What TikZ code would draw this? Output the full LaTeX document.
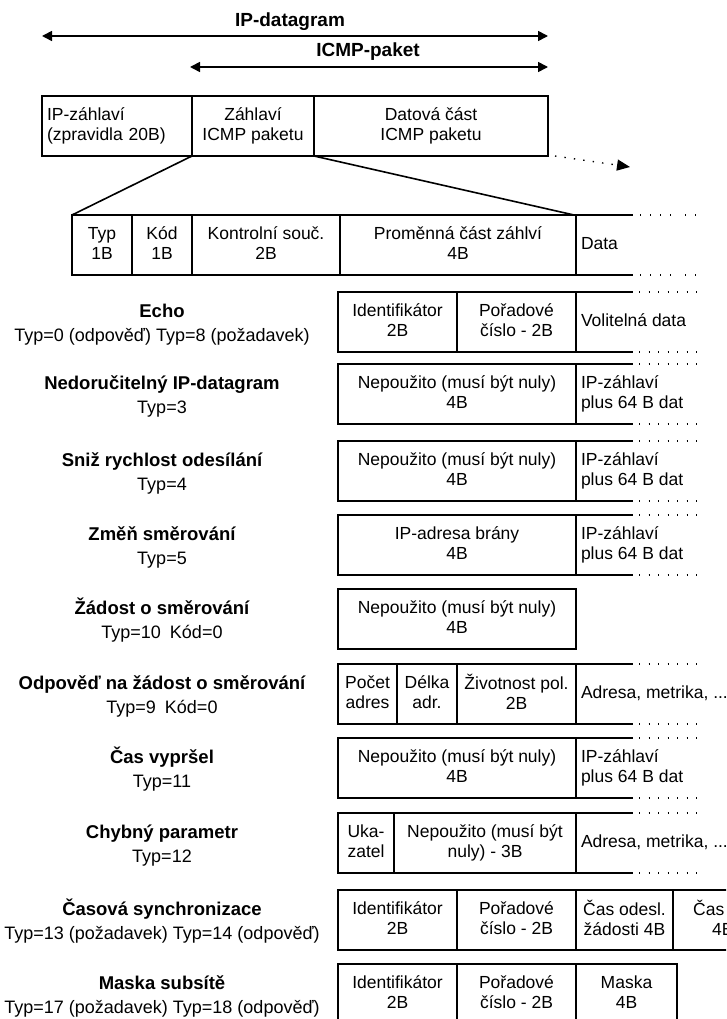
\documentclass[tikz,border=0pt]{standalone}
\usepackage{fontspec}
\setmainfont{Liberation Sans}
\usetikzlibrary{arrows.meta}
\newcommand\twol[2]{\rule{0pt}{12.5pt}#1\\#2\rule[-3.5pt]{0pt}{3.5pt}}
\newcommand\onel[1]{\rule[-3.5pt]{0pt}{16pt}#1}
\newcommand\datalines[1]{%
  \draw[dline] (#1.north east) -- ++(57,0);
  \draw[dots] ([xshift=63pt]#1.north east) -- ++(62,0);
  \draw[dline] (#1.south east) -- ++(57,0);
  \draw[dots] ([xshift=63pt]#1.south east) -- ++(62,0);}
\begin{document}
\begin{tikzpicture}[x=1pt,y=-1pt,
  cell/.style={draw, line width=1.6pt, inner sep=0pt, outer sep=0pt, minimum height=60pt,
    align=center, font=\fontsize{17.5}{20}\selectfont},
  dtxt/.style={anchor=west, inner xsep=5pt, inner ysep=0pt, outer sep=0pt, align=left,
    font=\fontsize{17.5}{20}\selectfont},
  ttl/.style={anchor=base, inner sep=0pt, font=\fontsize{18.5}{22}\selectfont\bfseries},
  sub/.style={anchor=base, inner sep=0pt, font=\fontsize{18}{20}\selectfont},
  big/.style={anchor=base, inner sep=0pt, font=\fontsize{19}{22}\selectfont\bfseries},
  frag/.style={anchor=base west, inner sep=0pt, font=\fontsize{17.5}{20}\selectfont},
  dline/.style={line width=1.6pt},
  dots/.style={line width=1.4pt, dash pattern=on 1.4pt off 8.1pt},
  hdots/.style={line width=1.4pt, dash pattern=on 1.4pt off 8.6pt on 1.4pt off 8.6pt on 1.4pt off 8.6pt on 1.4pt off 13.6pt on 1.4pt off 8.6pt},
  tip/.style={{Triangle[length=10pt,width=10pt]}-{Triangle[length=10pt,width=10pt]}},
]
\useasboundingbox (0,0) rectangle (726,1019);
\clip (0,0) rectangle (726,1019);
\fill[white] (0,0) rectangle (726,1019);

% top arrows
\coordinate (a1l) at (42,36);
\coordinate (a1r) at (548,36);
\coordinate (a2l) at (190,67);
\coordinate (a2r) at (548,67);
\node[big] (tipd) at (290,27) {IP-datagram};
\node[big] (ticmp) at (368,57) {ICMP-paket};
\draw[tip, line width=1.6pt] (a1l) -- (a1r);
\draw[tip, line width=1.6pt] (a2l) -- (a2r);

% top box
\node[cell, minimum width=150pt, text width=140pt, align=left, inner xsep=5pt] (ipz) at (117,126) {\twol{IP-záhlaví}{(zpravidla 20B)}};
\node[cell, minimum width=122pt] (zic) at (253,126) {\twol{Záhlaví}{ICMP paketu}};
\node[cell, minimum width=234pt] (dat) at (431,126) {\twol{Datová část}{ICMP paketu}};
\coordinate (da) at (630,167);
\draw[dots, -{Triangle[length=13pt,width=11pt]}] ([xshift=7pt]dat.south east) -- (da);

% header row
\node[cell, minimum width=60pt] (typ) at (102,245) {\twol{Typ}{1B}};
\node[cell, minimum width=60pt] (kod) at (162,245) {\twol{Kód}{1B}};
\node[cell, minimum width=148pt] (kon) at (266,245) {\twol{Kontrolní souč.}{2B}};
\node[cell, minimum width=236pt] (prom) at (458,245) {\twol{Proměnná část záhlví}{4B}};
\node[dtxt] (hdata) at (prom.east) {\onel{Data}};
\draw[dline] (prom.north east) -- ++(57,0);
\draw[hdots] ([xshift=64pt]prom.north east) -- ++(58,0);
\draw[dline] (prom.south east) -- ++(57,0);
\draw[hdots] ([xshift=64pt]prom.south east) -- ++(58,0);
\draw[dline] (zic.south west) -- (typ.north west);
\draw[dline] (zic.south east) -- ([xshift=-2pt]prom.north east);

% left titles
\node[ttl] (n1) at (162,317) {Echo};
\node[sub] (s1) at (162,341) {Typ=0 (odpověď) Typ=8 (požadavek)};
\node[ttl] (n2) at (162,389) {Nedoručitelný IP-datagram};
\node[sub] (s2) at (162,413) {Typ=3};
\node[ttl] (n3) at (162,466) {Sniž rychlost odesílání};
\node[sub] (s3) at (162,490) {Typ=4};
\node[ttl] (n4) at (162,540) {Změň směrování};
\node[sub] (s4) at (162,564) {Typ=5};
\node[ttl] (n5) at (162,614) {Žádost o směrování};
\node[sub] (s5) at (162,638) {Typ=10\hspace{9pt}Kód=0};
\node[ttl] (n6) at (162,689) {Odpověď na žádost o směrování};
\node[sub] (s6) at (162,713) {Typ=9\hspace{9pt}Kód=0};
\node[ttl] (n7) at (162,763) {Čas vypršel};
\node[sub] (s7) at (162,787) {Typ=11};
\node[ttl] (n8) at (162,838) {Chybný parametr};
\node[sub] (s8) at (162,862) {Typ=12};
\node[ttl] (n9) at (162,915) {Časová synchronizace};
\node[sub] (s9) at (162,939) {Typ=13 (požadavek) Typ=14 (odpověď)};
\node[ttl] (n10) at (162,989) {Maska subsítě};
\node[sub] (s10) at (162,1013) {Typ=17 (požadavek) Typ=18 (odpověď)};

% R1 Echo
\node[cell, minimum width=119pt] (e1) at (397.5,322) {\twol{Identifikátor}{2B}};
\node[cell, minimum width=119pt] (e2) at (516.5,322) {\twol{Pořadové}{číslo - 2B}};
\node[dtxt] (e3) at (e2.east) {\onel{Volitelná data}};
\datalines{e2}

% R2
\node[cell, minimum width=238pt] (r2) at (457,394) {\twol{Nepoužito (musí být nuly)}{4B}};
\node[dtxt] (r2d) at (r2.east) {\twol{IP-záhlaví}{plus 64 B dat}};
\datalines{r2}

% R3
\node[cell, minimum width=238pt] (r3) at (457,471) {\twol{Nepoužito (musí být nuly)}{4B}};
\node[dtxt] (r3d) at (r3.east) {\twol{IP-záhlaví}{plus 64 B dat}};
\datalines{r3}

% R4
\node[cell, minimum width=238pt] (r4) at (457,545) {\twol{IP-adresa brány}{4B}};
\node[dtxt] (r4d) at (r4.east) {\twol{IP-záhlaví}{plus 64 B dat}};
\datalines{r4}

% R5
\node[cell, minimum width=238pt] (r5) at (457,619) {\twol{Nepoužito (musí být nuly)}{4B}};

% R6
\node[cell, minimum width=59pt] (r6a) at (367.5,694) {\twol{Počet}{adres}};
\node[cell, minimum width=60pt] (r6b) at (427,694) {\twol{Délka}{adr.}};
\node[cell, minimum width=119pt] (r6c) at (516.5,694) {\twol{Životnost pol.}{2B}};
\node[dtxt] (r6d) at (r6c.east) {\onel{Adresa, metrika, ...}};
\datalines{r6c}

% R7
\node[cell, minimum width=238pt] (r7) at (457,768) {\twol{Nepoužito (musí být nuly)}{4B}};
\node[dtxt] (r7d) at (r7.east) {\twol{IP-záhlaví}{plus 64 B dat}};
\datalines{r7}

% R8
\node[cell, minimum width=56pt] (r8a) at (366,843) {\twol{Uka-}{zatel}};
\node[cell, minimum width=182pt] (r8b) at (485,843) {\twol{Nepoužito (musí být}{nuly) - 3B}};
\node[dtxt] (r8d) at (r8b.east) {\onel{Adresa, metrika, ...}};
\datalines{r8b}

% R9
\node[cell, minimum width=119pt] (r9a) at (397.5,920) {\twol{Identifikátor}{2B}};
\node[cell, minimum width=119pt] (r9b) at (516.5,920) {\twol{Pořadové}{číslo - 2B}};
\node[cell, minimum width=97pt] (r9c) at (624.5,920) {\twol{Čas odesl.}{žádosti 4B}};
\node[cell, minimum width=117pt] (r9d) at (731.5,920) {};
\node[frag] (r9t1) at (693,915) {Čas};
\node[frag] (r9t2) at (712,935) {4B};

% R10
\node[cell, minimum width=119pt] (r10a) at (397.5,994) {\twol{Identifikátor}{2B}};
\node[cell, minimum width=119pt] (r10b) at (516.5,994) {\twol{Pořadové}{číslo - 2B}};
\node[cell, minimum width=101pt] (r10c) at (626.5,994) {\twol{Maska}{4B}};
\end{tikzpicture}
\end{document}
